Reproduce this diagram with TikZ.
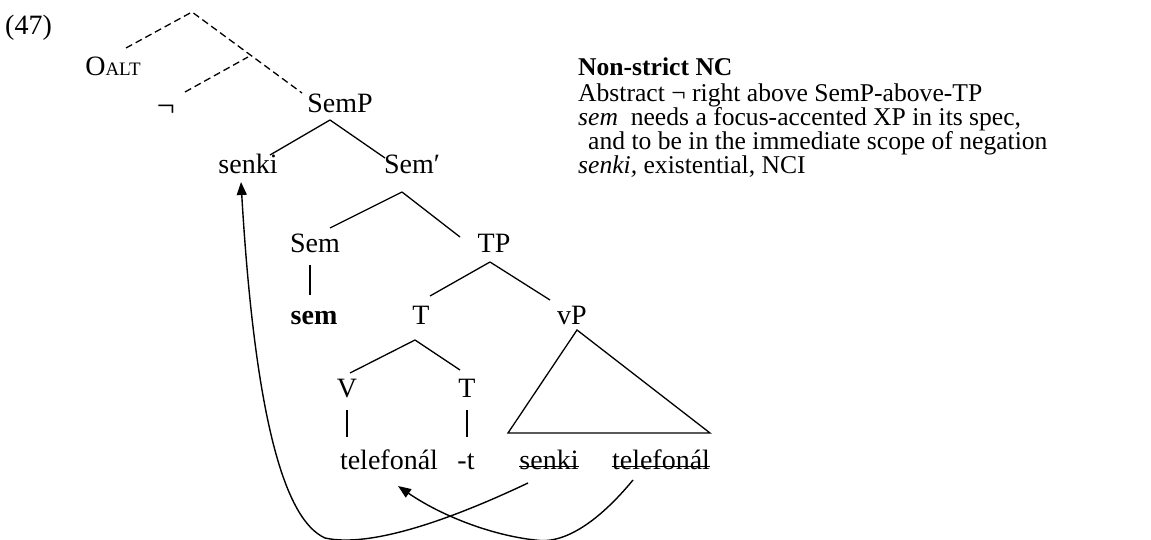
\documentclass[tikz,border=0pt]{standalone}
\usepackage{fontspec}
\setmainfont{Liberation Serif}
\usetikzlibrary{arrows.meta}
\begin{document}
\begin{tikzpicture}[x=1pt,y=-1pt,
  font=\fontsize{28}{30}\selectfont,
  lab/.style={inner sep=0pt, anchor=base},
  txt/.style={inner sep=0pt, anchor=base west},
  rtxt/.style={inner sep=0pt, anchor=base west, font=\fontsize{25.6}{28}\selectfont},
  edge/.style={line width=1.3pt},
  dashedge/.style={line width=1.3pt, dash pattern=on 7pt off 4pt},
  mv/.style={line width=1.4pt, -{Triangle[length=13pt,width=10pt]}}]
\useasboundingbox (0,0) rectangle (1151,540);

% labels
\node[txt] (ex) at (5,35) {(47)};
\node[lab] (op) at (113,76) {O{\fontsize{19}{19}\selectfont ALT}};
\node[lab] (neg) at (166,117) {\fontsize{32}{32}\selectfont ¬};
\node[lab] (semp) at (340,113) {SemP};
\node[lab] (senki) at (248,174) {senki};
\node[lab] (sembar) at (412,174) {Sem′};
\node[lab] (sem) at (315,252) {Sem};
\node[lab] (tp) at (494,252) {TP};
\node[lab] (semw) at (314,324) {\textbf{sem}};
\node[lab] (t1) at (421,324) {T};
\node[lab] (vp) at (572,324) {vP};
\node[lab] (v) at (347,397) {V};
\node[lab] (t2) at (467,397) {T};
\node[lab] (tel) at (389,469) {telefonál};
\node[lab] (tsuf) at (466,469) {-t};
\node[lab] (ss) at (549,469) {senki};
\node[lab] (st) at (661,469) {telefonál};

% strike-through
\draw[line width=1.1pt] (ss.mid west) -- (ss.mid east);
\draw[line width=1.1pt] (st.mid west) -- (st.mid east);

% dashed top
\coordinate (top) at (192,12);
\coordinate (mid) at (248,57);
\draw[dashedge] (126,48) -- (top) -- (302,93);
\draw[dashedge] (185,92) -- (mid);

% tree edges
\draw[edge] (330,120) -- (270,155);
\draw[edge] (330,120) -- (385,158);
\draw[edge] (402,192) -- (330,228);
\draw[edge] (402,192) -- (460,237);
\draw[edge] (310,265) -- (310,295);
\draw[edge] (490,262) -- (430,296);
\draw[edge] (490,262) -- (550,300);
\draw[edge] (415,340) -- (350,373);
\draw[edge] (415,340) -- (460,370);
\draw[edge] (577,330) -- (508,433) -- (710,433) -- cycle;
\draw[edge] (347,410) -- (347,437);
\draw[edge] (467,410) -- (467,437);

% movement arrows
\draw[mv] (528,483) .. controls (450,520) and (370,548) .. (325,538)
  .. controls (285,520) and (255,420) .. (241,182);
\draw[mv] (633,480) .. controls (600,520) and (565,545) .. (535,540)
  .. controls (490,535) and (440,515) .. (398,486);

% right text
\node[rtxt] (r1) at (578,76) {\textbf{Non-strict NC}};
\node[rtxt] (r2) at (578,102) {Abstract ¬ right above SemP-above-TP};
\node[rtxt] (r3) at (578,126) {\textit{sem}\ \ needs a focus-accented XP in its spec,};
\node[rtxt] (r4) at (588,150) {and to be in the immediate scope of negation};
\node[rtxt] (r5) at (578,174) {\textit{senki,} existential, NCI};
\end{tikzpicture}
\end{document}
